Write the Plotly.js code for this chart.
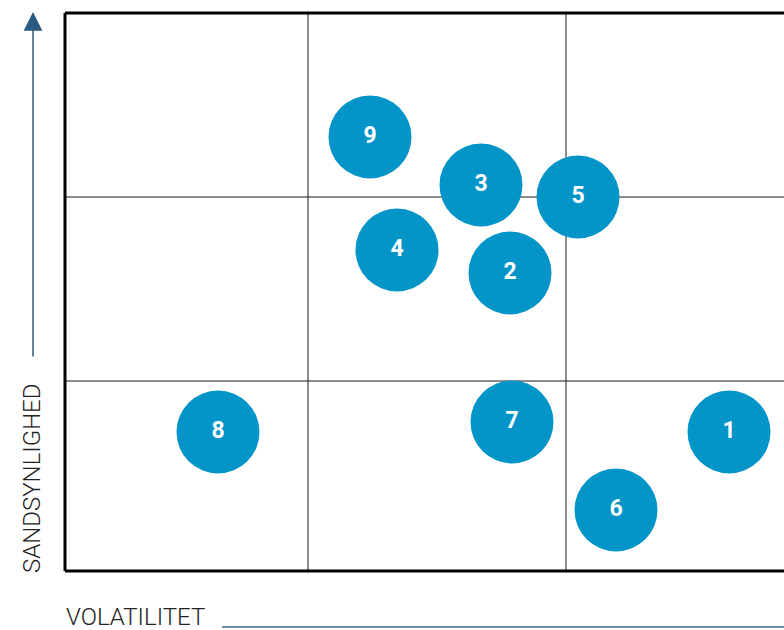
<!DOCTYPE html>
<html><head><meta charset="utf-8">
<script src="https://cdn.plot.ly/plotly-3.0.1.min.js"></script>
<style>html,body{margin:0;padding:0;overflow:hidden;background:#fff}</style>
</head><body>
<div id="chart" style="width:784px;height:630px"></div>
<script>
const labels = ["1","2","3","4","5","6","7","8","9"];
const volatility = [6.64, 4.45, 4.16, 3.32, 5.13, 5.51, 4.47, 1.53, 3.05];
const likelihood = [1.39, 2.98, 3.86, 3.21, 3.74, 0.61, 1.49, 1.39, 4.34];
const xDividers = [2.43, 5.01];
const yDividers = [1.90, 3.74];
const xRange = [0, 7.19];
const yRange = [0, 5.58];

const shapes = [];
xDividers.forEach(v => shapes.push({type:'line', xref:'x', yref:'paper', x0:v, x1:v, y0:0, y1:1, line:{color:'#1a1a1a', width:1}, layer:'below'}));
yDividers.forEach(v => shapes.push({type:'line', xref:'paper', yref:'y', x0:0, x1:1, y0:v, y1:v, line:{color:'#1a1a1a', width:1}, layer:'below'}));
// frame (left, top, bottom)
shapes.push({type:'line', xref:'paper', yref:'paper', x0:0, x1:0, y0:0, y1:1, line:{color:'#000', width:3}});
shapes.push({type:'line', xref:'paper', yref:'paper', x0:0, x1:1.01, y0:1, y1:1, line:{color:'#000', width:3}});
shapes.push({type:'line', xref:'paper', yref:'paper', x0:0, x1:1.01, y0:0, y1:0, line:{color:'#000', width:3}});
// x axis indicator line
shapes.push({type:'line', xref:'paper', yref:'paper', x0:(222-65)/719, x1:1.02, y0:(571-627)/558, y1:(571-627)/558, line:{color:'#6a8fa8', width:2}});

const trace = {
  x: volatility, y: likelihood, text: labels,
  mode: 'markers+text', type: 'scatter',
  marker: {size: 83, color: '#0394c8', line: {width: 0}},
  textposition: 'middle center',
  textfont: {color: '#ffffff', size: 23, family: 'Roboto', weight: 'bold'},
  hoverinfo: 'none', cliponaxis: false
};

const layout = {
  width: 784, height: 630,
  margin: {l: 65, r: 0, t: 13, b: 59},
  paper_bgcolor: '#fff', plot_bgcolor: '#fff',
  showlegend: false,
  xaxis: {range: xRange, showgrid: false, zeroline: false, showticklabels: false, ticks: '', showline: false, fixedrange: true},
  yaxis: {range: yRange, showgrid: false, zeroline: false, showticklabels: false, ticks: '', showline: false, fixedrange: true},
  shapes: shapes,
  annotations: [
    {xref:'paper', yref:'paper', x:(33-65)/719, y:(571-12)/558, axref:'pixel', ayref:'pixel', ax:0, ay:346,
     showarrow:true, arrowhead:2, arrowsize:2.5, arrowwidth:1.5, arrowcolor:'#2b5a80', text:''},
    {xref:'paper', yref:'paper', x:(32-65)/719, y:(571-478)/558, text:'SANDSYNLIGHED', textangle:-90, showarrow:false,
     font:{family:'Roboto', size:24, color:'#222', weight:300}, xanchor:'center', yanchor:'middle'},
    {xref:'paper', yref:'paper', x:(64-65)/719, y:(571-617)/558, text:'VOLATILITET', showarrow:false,
     font:{family:'Roboto', size:24, color:'#222', weight:300}, xanchor:'left', yanchor:'middle'}
  ]
};

Plotly.newPlot('chart', [trace], layout, {displayModeBar: false, staticPlot: true});
</script>
</body></html>
